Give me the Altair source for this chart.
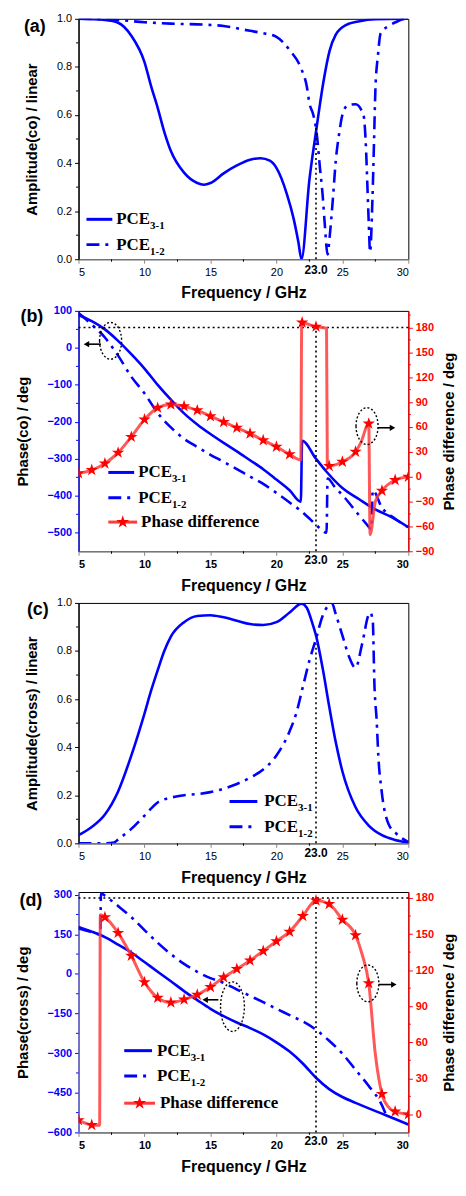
import altair as alt
import pandas as pd

# ---------------- data ----------------
freq_ticks = [5, 10, 15, 20, 25, 30]
freq_minor = [7.5, 12.5, 17.5, 22.5, 27.5]

# (a) amplitude, co-polarised
a31_f = [5, 7, 8, 9, 10, 10.5, 11, 11.5, 12, 13, 14, 14.5, 15, 16, 17, 18, 18.8, 19.5, 20, 20.8, 21.3, 21.67, 21.9,
         22.5, 23.04, 23.54, 24.03, 24.5, 25.3, 26.3, 27.5, 30]
a31_v = [1.0, 0.995, 0.984, 0.93, 0.82, 0.72, 0.63, 0.53, 0.45, 0.36, 0.317, 0.31, 0.317, 0.357, 0.39, 0.414, 0.42,
         0.41, 0.38, 0.27, 0.17, 0.07, 0.0, 0.33, 0.545, 0.73, 0.867, 0.934, 0.975, 0.99, 0.998, 1.0]
a12_f = [5, 8, 10, 12, 14, 16, 18, 19, 20, 21, 21.9, 22.3, 22.5, 22.8, 23.04, 23.3, 23.5, 23.66, 23.88, 24.03, 24.28,
         24.5, 24.75, 25.0, 25.4, 26.0, 26.6, 26.8, 26.9, 27.0, 27.1, 27.28, 27.4, 27.5, 27.7, 27.9, 28.5, 29, 29.8, 30]
a12_v = [1.0, 0.995, 0.986, 0.98, 0.977, 0.97, 0.95, 0.94, 0.925, 0.87, 0.79, 0.72, 0.65, 0.6, 0.53, 0.38, 0.27, 0.15,
         0.02, 0.09, 0.25, 0.41, 0.52, 0.6, 0.64, 0.645, 0.6, 0.45, 0.3, 0.15, 0.03, 0.25, 0.49, 0.7, 0.85, 0.94, 0.97,
         0.985, 1.0, 1.0]

# (b) phase, co-polarised
b31_f = [5, 6, 7, 8, 9, 10, 11, 12, 13, 14, 15, 16, 17, 18, 19, 20, 21, 21.85, 21.95, 23, 23.8, 25, 26.3, 27.5,
         28.8, 30]
b31_v = [89, 72, 50, 19, -17, -56, -100, -140, -177, -207, -233, -257, -280, -304, -328, -356, -385, -416, -251,
         -300, -335, -379, -410, -437, -459, -485]
b12_f = [5, 6, 7, 8, 9, 10, 11, 12, 13, 14, 15, 16, 17, 18, 19, 20, 21, 21.8, 22.55, 23.2, 23.8, 23.88, 24.4, 25.2,
         26.2, 26.8, 27.2, 27.3, 28, 29, 30]
b12_v = [94, 63, 28, -21, -78, -123, -176, -215, -246, -268, -289, -308, -328, -348, -368, -392, -418, -439, -463,
         -485, -500, -353, -375, -406, -450, -475, -490, -385, -432, -462, -485]
bd_f = [5, 6, 7, 8, 9, 10, 11, 12, 13, 14, 15, 16, 17, 18, 19, 20, 21, 21.85, 21.92, 22.9, 23.8, 23.86, 24, 25, 26,
        26.4, 27, 27.1, 27.5, 28, 29, 30]
bd_v = [4, 8, 16, 29, 48, 69, 83, 87, 85, 80, 73, 66, 59, 52, 44, 36, 27, 20, 186, 181, 179, 14, 13, 18, 30, 41, 64,
        -70, -30, -17, -4, 0]
bs_f = [5, 6, 7, 8, 9, 10, 11, 12, 13, 14, 15, 16, 17, 18, 19, 20, 21, 21.95, 23, 24, 25, 26, 27, 28, 29, 30]
bs_v = [4, 8, 16, 29, 48, 69, 83, 87, 85, 80, 73, 66, 59, 52, 44, 36, 27, 186, 181, 13, 18, 30, 64, -17, -4, 0]

# (c) amplitude, cross-polarised
c31_f = [5, 6, 7, 8, 9, 10, 10.5, 11, 11.5, 12, 13, 14, 15, 16, 17, 18, 19, 20, 21, 21.9, 22.3, 22.7, 23, 23.5,
         24, 24.5, 25, 26, 27, 28, 29, 30]
c31_v = [0.034, 0.068, 0.12, 0.216, 0.365, 0.54, 0.635, 0.72, 0.8, 0.86, 0.92, 0.946, 0.949, 0.94, 0.926, 0.912,
         0.908, 0.92, 0.96, 0.997, 0.98, 0.92, 0.865, 0.73, 0.57, 0.42, 0.3, 0.15, 0.074, 0.034, 0.014, 0.003]
c12_f = [5, 6, 7, 7.7, 8, 9, 10, 11, 12, 13, 14, 15, 16, 17, 18, 19, 20, 21, 21.5, 22, 22.5, 23, 23.5, 24, 24.2,
         24.5, 25, 25.5, 26, 26.5, 27, 27.1, 27.3, 27.43, 27.6, 27.73, 27.97, 28.5, 29.1, 30]
c12_v = [0.0, 0.0, 0.0, 0.003, 0.016, 0.06, 0.115, 0.17, 0.19, 0.2, 0.205, 0.213, 0.227, 0.247, 0.273, 0.307, 0.365,
         0.466, 0.54, 0.65, 0.76, 0.85, 0.946, 0.993, 1.0, 0.953, 0.865, 0.777, 0.73, 0.83, 0.953, 0.96, 0.93, 0.66,
         0.51, 0.36, 0.22, 0.08, 0.04, 0.005]

# (d) phase, cross-polarised
d31_f = [5, 6, 7, 8, 9, 10, 11, 12, 13, 14, 15, 16, 17, 18, 19, 20, 21, 22, 23, 24, 25, 26, 27, 28, 29, 30]
d31_v = [178, 160, 139, 111, 81, 45, 8, -28, -65, -99, -132, -160, -184, -205, -229, -259, -294, -339, -393, -436,
         -466, -488, -509, -529, -549, -570]
d12_f = [5, 6, 6.65, 6.7, 7, 8, 9, 10, 11, 12, 13, 14, 15, 16, 17, 18, 19, 20, 21, 22, 23, 24, 25, 26, 27, 28, 28.4]
d12_v = [172, 158, 150, 305, 296, 257, 215, 166, 118, 75, 38, 8, -16, -34, -59, -83, -107, -132, -156, -180, -211,
         -253, -302, -363, -424, -497, -545]
dd_f = [5, 6, 6.6, 6.65, 7, 8, 9, 10, 11, 12, 13, 14, 15, 16, 17, 18, 19, 20, 21, 22, 23, 24, 25, 26, 26.5, 27,
        27.5, 28, 28.5, 29, 30]
dd_v = [-4.8, -8.8, -9, 166, 164, 151, 132, 110, 97, 93, 95.6, 99.6, 106, 114, 121, 128, 136, 144, 152, 165, 178,
        175, 162, 149, 133, 109, 50, 17, 6, 2.4, 0]
ds_f = [5, 6, 7, 8, 9, 10, 11, 12, 13, 14, 15, 16, 17, 18, 19, 20, 21, 22, 23, 24, 25, 26, 27, 28, 29, 30]
ds_v = [-4.8, -8.8, 164, 151, 132, 110, 97, 93, 95.6, 99.6, 106, 114, 121, 128, 136, 144, 152, 165, 178, 175, 162,
        149, 109, 17, 2.4, 0]

# annotations (ellipse centres, arrows)
b_ell_left = (7.43, 19)
b_arrow_left = (6.7, 5.6, 10)
b_ell_right = (26.87, 61)
b_arrow_right = (27.7, 28.8, 59)
d_ell_left = (16.67, -124)
d_arrow_left = (15.6, 14.6, -98)
d_ell_right = (26.93, 109)
d_arrow_right = (27.75, 28.9, 108)

# ---------------- style ----------------
W, H = 332, 242
K = H / 247.0  # legend offsets measured on a 247 px tall plot
BLUE, RED, BLACK = "#0000ff", "#ff0000", "#000000"
LRED = "#ff3b3b"
SANS, SERIF = "Liberation Sans", "Liberation Serif"
DASHDOT = [13, 6, 3, 6]
STAR = ("M0,-1L0.2245,-0.309L0.951,-0.309L0.363,0.118L0.588,0.809L0,0.382L-0.588,0.809"
        "L-0.363,0.118L-0.951,-0.309L-0.2245,-0.309Z")


def ellipse(rx):
    return f"M{-rx},0A{rx},1 0 1,0 {rx},0A{rx},1 0 1,0 {-rx},0Z"


one = pd.DataFrame({"k": [0]})


def frame(f, v):
    return pd.DataFrame({"f": f, "v": v})


def xenc(bold, field="f:Q"):
    return alt.X(field, scale=alt.Scale(domain=[5, 30], nice=False, zero=False),
                 axis=alt.Axis(values=freq_ticks, format="d", title="Frequency / GHz",
                               labelFontWeight="bold" if bold else "normal"))


def yenc(domain, values, fmt, title, color=BLACK, orient="left", bold=False, dcolor=None):
    kw = dict(orient=orient, values=values, format=fmt, title=title, labelColor=color,
              tickColor=color, domainColor=dcolor or color,
              labelFontWeight="bold" if bold else "normal")
    if orient == "right":
        kw.update(titleAngle=270, titleBaseline="top", titlePadding=8)
    else:
        kw.update(titlePadding=17)
    return alt.Y("v:Q", scale=alt.Scale(domain=domain, nice=False, zero=False), axis=alt.Axis(**kw))


def line(data, X, Y, color, dash=False, width=2.6, opacity=1.0):
    kw = dict(color=color, strokeWidth=width, interpolate="monotone", clip=True, opacity=opacity)
    if dash:
        kw["strokeDash"] = DASHDOT
    return alt.Chart(data).mark_line(**kw).encode(x=X, y=Y)


def stars(data, X, Y):
    return alt.Chart(data).mark_point(shape=STAR, filled=True, size=170, color=RED, opacity=1,
                                      clip=True).encode(x=X, y=Y)


def txt(text, x, y, size, font=SANS, weight="bold", color=BLACK, align="left"):
    return alt.Chart(one).mark_text(text=text, font=font, fontSize=size, fontWeight=weight, color=color,
                                    align=align, baseline="middle").encode(x=alt.value(x), y=alt.value(y))


def seg(x1, x2, y, color, dash=False, width=3):
    kw = dict(color=color, strokeWidth=width)
    if dash:
        kw["strokeDash"] = DASHDOT
    return alt.Chart(one).mark_rule(**kw).encode(x=alt.value(x1), x2=alt.value(x2), y=alt.value(y))


def legend(x1, x2, tx, ys, with_phase):
    ys = [y * K for y in ys]
    layers = [seg(x1, x2, ys[0], BLUE),
              txt("PCE", tx, ys[0], 17, font=SERIF),
              txt("3-1", tx + 34, ys[0] + 7, 11, font=SERIF),
              seg(x1, x2, ys[1], BLUE, dash=True),
              txt("PCE", tx, ys[1], 17, font=SERIF),
              txt("1-2", tx + 34, ys[1] + 7, 11, font=SERIF)]
    if with_phase:
        layers += [seg(x1, x2 + 3, ys[2], LRED),
                   alt.Chart(one).mark_point(shape=STAR, filled=True, size=190, color=RED, opacity=1)
                   .encode(x=alt.value((x1 + x2 + 3) / 2), y=alt.value(ys[2])),
                   txt("Phase difference", tx + 3, ys[2], 17, font=SERIF)]
    return layers


def vdot(X, Y, lo, hi):
    d = pd.DataFrame({"f": [23], "v": [lo], "v2": [hi]})
    return alt.Chart(d).mark_rule(color=BLACK, strokeDash=[2, 3], strokeWidth=1.6).encode(
        x=X, y=Y, y2=alt.Y2("v2:Q"))


def hdot(X, Y, level):
    d = pd.DataFrame({"f": [5], "f2": [30], "v": [level]})
    return alt.Chart(d).mark_rule(color=BLACK, strokeDash=[2, 3], strokeWidth=1.6).encode(
        x=X, x2=alt.X2("f2:Q"), y=Y)


def label23(X, dy):
    d = pd.DataFrame({"f": [23]})
    return alt.Chart(d).mark_text(text="23.0", font=SANS, fontSize=12, fontWeight="bold", color=BLACK,
                                  baseline="middle").encode(x=X, y=alt.value(H + dy))


def ell_mark(X, Y, centre, box, rx):
    d = pd.DataFrame({"f": [centre[0]], "v": [centre[1]]})
    return alt.Chart(d).mark_point(shape=ellipse(rx), size=box * box, filled=False, color=BLACK, strokeWidth=1.4,
                                   strokeDash=[2, 2], opacity=1).encode(x=X, y=Y)


def arrow(X, Y, spec, direction):
    d = pd.DataFrame({"f": [spec[0]], "f2": [spec[1]], "v": [spec[2]]})
    tip = pd.DataFrame({"f": [spec[1]], "v": [spec[2]]})
    return [alt.Chart(d).mark_rule(color=BLACK, strokeWidth=1.6).encode(x=X, x2=alt.X2("f2:Q"), y=Y),
            alt.Chart(tip).mark_point(shape="triangle-" + direction, filled=True, size=40, color=BLACK,
                                      opacity=1).encode(x=X, y=Y)]


def xminor(X):
    d = pd.DataFrame({"f": freq_minor})
    return alt.Chart(d).mark_rule(color=BLACK, strokeWidth=1).encode(x=X, y=alt.value(H), y2=alt.value(H + 2.5))


def yminor(Y, vals, color, side="left"):
    d = pd.DataFrame({"v": vals})
    x0, x1 = (0, -2.5) if side == "left" else (W, W + 2.5)
    return alt.Chart(d).mark_rule(color=color, strokeWidth=1).encode(y=Y, x=alt.value(x0), x2=alt.value(x1))


# ---------------- panel (a) ----------------
Xa = xenc(False)
Ya = yenc([0, 1], [0, 0.2, 0.4, 0.6, 0.8, 1.0], ".1f", "Amplitude(co) / linear")
pa = alt.layer(
    line(frame(a31_f, a31_v), Xa, Ya, BLUE),
    line(frame(a12_f, a12_v), Xa, Ya, BLUE, dash=True),
    vdot(Xa, Ya, 0, 0.55),
    xminor(Xa),
    yminor(Ya, [0.1, 0.3, 0.5, 0.7, 0.9], BLACK),
    label23(Xa, 11),
    txt("(a)", -44, 8, 18, align="center"),
    *legend(8, 34, 38, [206, 232], False),
).properties(width=W, height=H)

# ---------------- panel (b) ----------------
Xb = xenc(True)
Yb_l = yenc([-550, 100], [-500, -400, -300, -200, -100, 0, 100], "d", "Phase(co) / deg", color=BLUE, bold=True)
Yb_r = yenc([-90, 200], list(range(-90, 181, 30)), "d", "Phase difference / deg", color=RED, orient="right",
            bold=True)
pb_left = alt.layer(
    line(frame(b31_f, b31_v), Xb, Yb_l, BLUE),
    line(frame(b12_f, b12_v), Xb, Yb_l, BLUE, dash=True),
    ell_mark(Xb, Yb_l, b_ell_left, 37, 0.6),
    *arrow(Xb, Yb_l, b_arrow_left, "left"),
    xminor(Xb),
    yminor(Yb_l, [-450, -350, -250, -150, -50, 50], BLUE),
    label23(Xb, 9),
    txt("(b)", -47, 6, 18, align="center"),
)
pb_right = alt.layer(
    hdot(Xb, Yb_r, 180),
    vdot(Xb, Yb_r, -90, 180),
    line(frame(bd_f, bd_v), Xb, Yb_r, LRED, width=3, opacity=0.85),
    stars(frame(bs_f, bs_v), Xb, Yb_r),
    ell_mark(Xb, Yb_r, b_ell_right, 37, 0.6),
    *arrow(Xb, Yb_r, b_arrow_right, "right"),
    yminor(Yb_r, [-75, -45, -15, 15, 45, 75, 105, 135, 165, 195], RED, side="right"),
    *legend(30, 56, 60, [166, 192, 217], True),
)
pb = alt.layer(pb_left, pb_right).resolve_scale(y="independent").properties(width=W, height=H)

# ---------------- panel (c) ----------------
Xc = xenc(False)
Yc = yenc([0, 1], [0, 0.2, 0.4, 0.6, 0.8, 1.0], ".1f", "Amplitude(cross) / linear")
pc = alt.layer(
    line(frame(c31_f, c31_v), Xc, Yc, BLUE),
    line(frame(c12_f, c12_v), Xc, Yc, BLUE, dash=True),
    vdot(Xc, Yc, 0, 0.83),
    xminor(Xc),
    yminor(Yc, [0.1, 0.3, 0.5, 0.7, 0.9], BLACK),
    label23(Xc, 10),
    txt("(c)", -41, 7, 18, align="center"),
    *legend(152, 180, 187, [204, 230], False),
).properties(width=W, height=H)

# ---------------- panel (d) ----------------
Xd = xenc(True)
Yd_l = yenc([-600, 310], [-600, -450, -300, -150, 0, 150, 300], "d", "Phase(cross) / deg", color=BLUE, bold=True,
            dcolor="#6b6bff")
Yd_r = yenc([-15, 185], list(range(0, 181, 30)), "d", "Phase difference / deg", color=RED, orient="right",
            bold=True)
pd_left = alt.layer(
    line(frame(d31_f, d31_v), Xd, Yd_l, BLUE),
    line(frame(d12_f, d12_v), Xd, Yd_l, BLUE, dash=True),
    ell_mark(Xd, Yd_l, d_ell_left, 50, 0.48),
    *arrow(Xd, Yd_l, d_arrow_left, "left"),
    xminor(Xd),
    yminor(Yd_l, [-525, -375, -225, -75, 75, 225], BLUE),
    label23(Xd, 9),
    txt("(d)", -48, 9, 18, align="center"),
)
pd_right = alt.layer(
    hdot(Xd, Yd_r, 180),
    vdot(Xd, Yd_r, -15, 180),
    line(frame(dd_f, dd_v), Xd, Yd_r, LRED, width=3, opacity=0.85),
    stars(frame(ds_f, ds_v), Xd, Yd_r),
    ell_mark(Xd, Yd_r, d_ell_right, 37, 0.6),
    *arrow(Xd, Yd_r, d_arrow_right, "right"),
    yminor(Yd_r, [15, 45, 75, 105, 135, 165], RED, side="right"),
    *legend(46, 74, 79, [163, 189, 217], True),
)
pdd = alt.layer(pd_left, pd_right).resolve_scale(y="independent").properties(width=W, height=H)

chart = alt.vconcat(pa, pb, pc, pdd, spacing=2).properties(
    padding={"left": 6, "top": 0, "right": 0, "bottom": 0}
).configure_view(stroke=BLACK, strokeWidth=1).configure_axis(
    labelFont=SANS, labelFontSize=11, labelColor=BLACK, titleFont=SANS, titleFontSize=15,
    titleFontWeight="bold", titleColor=BLACK, grid=False, tickSize=4, labelPadding=3, domainWidth=1.2
).configure_axisX(titleFontSize=16, titlePadding=8)

chart.save("out.html", embed_options={"renderer": "svg", "actions": False})
